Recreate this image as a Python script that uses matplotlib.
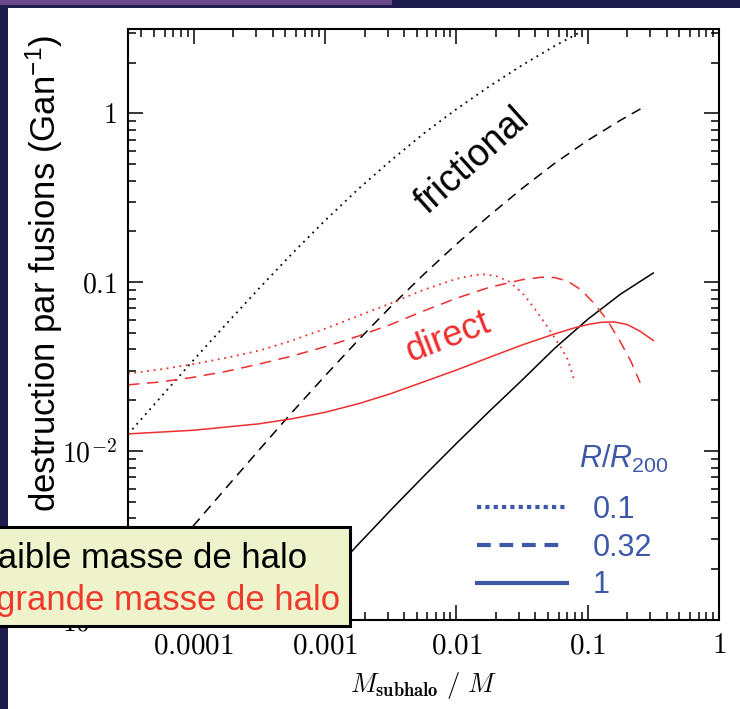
import numpy as np
import matplotlib
matplotlib.use('Agg')
import matplotlib.pyplot as plt
from matplotlib.patches import Rectangle
from matplotlib.lines import Line2D
from matplotlib.ticker import LogLocator, NullFormatter

plt.rcParams['font.family'] = ['Liberation Sans', 'DejaVu Sans']
plt.rcParams['mathtext.fontset'] = 'custom'
plt.rcParams['mathtext.rm'] = 'Liberation Sans'
plt.rcParams['mathtext.it'] = 'Liberation Sans:italic'
plt.rcParams['mathtext.bf'] = 'Liberation Sans:bold'

# frictional (black), R/R200 = 0.1, 0.32, 1
fric01_x = [3.16e-5, 5.62e-5, 1e-4, 1.78e-4, 3.16e-4, 5.62e-4, 1e-3, 1.78e-3,
            3.16e-3, 5.62e-3, 0.01, 0.0178, 0.0316, 0.0562, 0.0871]
fric01_y = [0.0126, 0.0209, 0.0347, 0.0569, 0.0923, 0.148, 0.232, 0.355,
            0.525, 0.759, 1.059, 1.445, 1.928, 2.512, 3.02]
fric032_x = [3.16e-5, 5.62e-5, 1e-4, 1.78e-4, 3.16e-4, 5.62e-4, 1e-3, 1.78e-3,
             3.16e-3, 5.62e-3, 0.01, 0.0178, 0.0316, 0.0562, 0.1, 0.178, 0.257]
fric032_y = [1.26e-3, 2.14e-3, 3.63e-3, 6.10e-3, 0.0102, 0.0170, 0.0279, 0.0452,
             0.0716, 0.111, 0.168, 0.248, 0.359, 0.507, 0.692, 0.912, 1.072]
fric1_x = [5.01e-4, 1e-3, 1.78e-3, 3.16e-3, 5.62e-3, 0.01, 0.0178, 0.0316,
           0.0562, 0.1, 0.178, 0.316]
fric1_y = [9.55e-4, 1.72e-3, 2.79e-3, 4.47e-3, 7.08e-3, 0.0111, 0.0172, 0.0263,
           0.0407, 0.0603, 0.0851, 0.1135]

# direct (red)
dir01_x = [3.16e-5, 5.62e-5, 1e-4, 1.78e-4, 3.16e-4, 5.62e-4, 1e-3, 1.78e-3,
           3.16e-3, 5.62e-3, 0.01, 0.0126, 0.0158, 0.02, 0.0251, 0.0316, 0.0398,
           0.0501, 0.0631, 0.0708, 0.0794]
dir01_y = [0.0288, 0.0305, 0.0328, 0.0357, 0.0394, 0.0452, 0.0531, 0.0631,
           0.075, 0.0902, 0.1047, 0.1091, 0.1117, 0.1091, 0.1012, 0.0871, 0.0692,
           0.0537, 0.0407, 0.0347, 0.026]
dir032_x = [3.16e-5, 5.62e-5, 1e-4, 1.78e-4, 3.16e-4, 5.62e-4, 1e-3, 1.78e-3,
            3.16e-3, 5.62e-3, 0.01, 0.0178, 0.0316, 0.0447, 0.0562, 0.0708, 0.0891,
            0.112, 0.141, 0.178, 0.214, 0.251]
dir032_y = [0.0247, 0.0257, 0.0274, 0.0297, 0.0328, 0.0366, 0.0415, 0.0479,
            0.0562, 0.0676, 0.0804, 0.0933, 0.1035, 0.1072, 0.1067, 0.1012, 0.0902,
            0.075, 0.0596, 0.0442, 0.0339, 0.0254]
dir1_x = [3.16e-5, 1e-4, 3.16e-4, 5.62e-4, 1e-3, 1.78e-3, 3.16e-3, 5.62e-3, 0.01,
          0.0178, 0.0316, 0.0562, 0.0794, 0.1, 0.126, 0.158, 0.2, 0.251, 0.316]
dir1_y = [0.01265, 0.0133, 0.01452, 0.01556, 0.01698, 0.01905, 0.02188, 0.0257,
          0.0302, 0.0359, 0.0425, 0.0495, 0.0537, 0.0562, 0.0579, 0.0583, 0.0562,
          0.0513, 0.0452]

xticks = [1e-4, 1e-3, 1e-2, 0.1, 1]
xticklabels = [r'$0.0001$', r'$0.001$', r'$0.01$', r'$0.1$', r'$1$']
yticks = [1e-3, 1e-2, 0.1, 1]
yticklabels = [r'$10^{-3}$', r'$10^{-2}$', r'$0.1$', r'$1$']
legend_labels = ['0.1', '0.32', '1']

RED = '#EE2E2E'
BLUE = '#3E58A8'
NAVY = '#1E1D4E'
PURPLE = '#6A4A8A'

W, H = 740, 709
def fx(px):
    return px / W
def fy(py):
    return 1 - py / H

fig = plt.figure(figsize=(7.4, 7.09), dpi=100)
fig.add_artist(Rectangle((0, 0), fx(8), 1, transform=fig.transFigure,
                         facecolor=NAVY, edgecolor='none'))
fig.add_artist(Rectangle((0, fy(8)), 1, 8 / H, transform=fig.transFigure,
                         facecolor=NAVY, edgecolor='none'))
fig.add_artist(Rectangle((0, fy(5)), fx(392), 5 / H, transform=fig.transFigure,
                         facecolor=PURPLE, edgecolor='none'))

ax = fig.add_axes([fx(128), fy(620), fx(719) - fx(128), fy(29) - fy(620)])
ax.set_xscale('log')
ax.set_yscale('log')

lw = 1.1
ax.plot(fric01_x, fric01_y, color='black', lw=1.3, ls=(0, (1, 2.6)))
ax.plot(fric032_x, fric032_y, color='black', lw=lw, ls=(0, (6.5, 4.5)))
ax.plot(fric1_x, fric1_y, color='black', lw=lw)
ax.plot(dir01_x, dir01_y, color=RED, lw=1.3, ls=(0, (1, 2.6)))
ax.plot(dir032_x, dir032_y, color=RED, lw=lw, ls=(0, (7.5, 5)))
ax.plot(dir1_x, dir1_y, color=RED, lw=lw)

ax.set_xlim(10 ** -4.5, 1)
ax.set_ylim(1e-3, 10 ** 0.5)

ax.set_xticks(xticks, xticklabels)
ax.set_yticks(yticks, yticklabels)
ax.xaxis.set_minor_locator(LogLocator(base=10, subs=np.arange(2, 10), numticks=20))
ax.yaxis.set_minor_locator(LogLocator(base=10, subs=np.arange(2, 10), numticks=20))
ax.xaxis.set_minor_formatter(NullFormatter())
ax.yaxis.set_minor_formatter(NullFormatter())
ax.tick_params(which='both', direction='in', top=True, right=True, width=1.1)
ax.tick_params(which='major', length=10.8)
ax.tick_params(which='minor', length=6)
ax.tick_params(axis='x', pad=8, labelsize=21)
ax.tick_params(axis='y', pad=8, labelsize=20)
for lbl in ax.get_xticklabels() + ax.get_yticklabels():
    lbl.set_math_fontfamily('cm')
for s in ax.spines.values():
    s.set_linewidth(1.5)

xl = ax.set_xlabel(r'$M_{\mathbf{subhalo}}\ /\ M$', fontsize=19, labelpad=8)
xl.set_math_fontfamily('cm')

fig.text(fx(44), fy(512), r'destruction par fusions (Gan$^{-1}$)', rotation=90,
         ha='center', va='bottom', fontsize=25)

ax.text(0.0132, 0.52, 'frictional', rotation=42, ha='center', va='center',
        fontsize=27, color='black')
ax.text(0.0087, 0.0469, 'direct', rotation=21, ha='center', va='center',
        fontsize=26, color=RED)

handles = [Line2D([], [], color=BLUE, lw=3, ls=(0, (1, 1))),
           Line2D([], [], color=BLUE, lw=3, ls=(0, (3.3, 2.1))),
           Line2D([], [], color=BLUE, lw=3, ls='-')]
ax.legend(handles, legend_labels, loc='upper left',
          bbox_to_anchor=(fx(477), fy(495)), bbox_transform=fig.transFigure,
          frameon=False, fontsize=22, handlelength=2.95, handletextpad=0.85,
          labelspacing=0.25, borderpad=0, borderaxespad=0, labelcolor=BLUE)
fig.text(fx(624), fy(459), r'$R/R_{200}$', ha='center', va='center',
         fontsize=22, color=BLUE)

fig.add_artist(Rectangle((fx(-10), fy(626)), fx(360), (626 - 527) / H,
                         transform=fig.transFigure, facecolor='#EEF3CB',
                         edgecolor='black', lw=2.2, zorder=10))
fig.text(fx(307), fy(568), 'faible masse de halo', ha='right', va='baseline',
         fontsize=25, color='black', zorder=11)
fig.text(fx(340), fy(610), 'grande masse de halo', ha='right', va='baseline',
         fontsize=25, color='#EE3A2C', zorder=11)

fig.savefig('out.png', dpi=100)
